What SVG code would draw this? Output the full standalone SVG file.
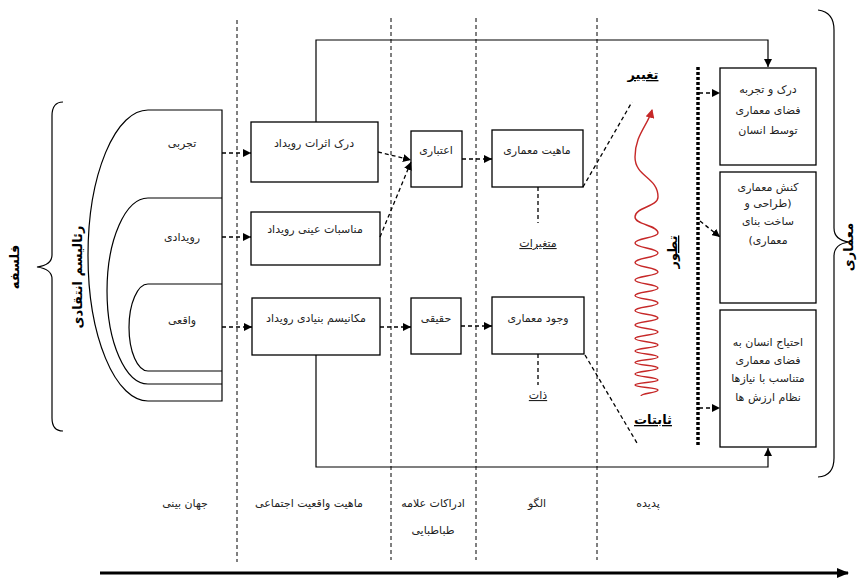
<svg xmlns="http://www.w3.org/2000/svg" width="860" height="585" viewBox="0 0 860 585">
<defs>
<style>
.t{font-family:"DejaVu Sans",sans-serif;font-size:11px;fill:#222;text-anchor:middle;direction:rtl}
.b{font-family:"DejaVu Sans",sans-serif;font-size:13px;font-weight:bold;fill:#000;text-anchor:middle;direction:rtl}
.u{text-decoration:underline}
.box{fill:#fff;stroke:#000;stroke-width:1.3}
.ln{fill:none;stroke:#000;stroke-width:1.2}
.dash{fill:none;stroke:#000;stroke-width:1.3;stroke-dasharray:4 3}
.vd{fill:none;stroke:#000;stroke-width:1;stroke-dasharray:4 3}
</style>
<marker id="ah" viewBox="0 0 8 8" refX="8" refY="4" markerWidth="8" markerHeight="8" markerUnits="userSpaceOnUse" orient="auto"><path d="M0,0 L8,4 L0,8 z" fill="#000"/></marker>
<marker id="big" viewBox="0 0 12 10" refX="11" refY="5" markerWidth="12" markerHeight="10" markerUnits="userSpaceOnUse" orient="auto"><path d="M0,0 L12,5 L0,10 z" fill="#000"/></marker>
<marker id="red" viewBox="0 0 8 8" refX="7" refY="4" markerWidth="9" markerHeight="9" markerUnits="userSpaceOnUse" orient="auto"><path d="M0,0 L8,4 L0,8 z" fill="#c62828"/></marker>
</defs>
<rect width="860" height="585" fill="#fff"/>

<g id="columns">
<line class="vd" x1="237" y1="20" x2="237" y2="562"/>
<line class="vd" x1="391" y1="18" x2="391" y2="560"/>
<line class="vd" x1="476" y1="18" x2="476" y2="560"/>
<line class="vd" x1="597" y1="18" x2="597" y2="560"/>
<line x1="698" y1="67" x2="698" y2="447" stroke="#000" stroke-width="3.5" stroke-dasharray="3 2"/>
</g>

<g id="philosophy">
<path class="ln" d="M63,102 Q52,102 52,116 L52,255 Q52,265 37,267 Q52,269 52,279 L52,418 Q52,431 63,431" stroke-width="2"/>
<text class="b" transform="translate(19,267) rotate(-90)">فلسفه</text>
<text class="b" transform="translate(82,277) rotate(-90)">رئالیسم انتقادی</text>
</g>

<g id="realism">
<path class="ln" d="M148,110 A60,145.5 0 0 0 148,401"/>
<path class="ln" d="M148,198 A41,93 0 0 0 148,384"/>
<path class="ln" d="M148,284 A19,43.5 0 0 0 148,371"/>
<path class="ln" d="M148,110 H222 V401 H148 M148,198 H222 M148,284 H222 M148,371 H222 M148,384 H222" stroke-width="1"/>
<text class="t" x="182" y="147">تجربی</text>
<text class="t" x="182" y="241">رویدادی</text>
<text class="t" x="182" y="324">واقعی</text>
</g>

<g id="n1"><rect class="box" x="251" y="122" width="127" height="60"/><text class="t" x="314" y="147">درک اثرات رویداد</text></g>
<g id="n2"><rect class="box" x="251" y="212" width="129" height="53"/><text class="t" x="315" y="233">مناسبات عینی رویداد</text></g>
<g id="n3"><rect class="box" x="252" y="298" width="128" height="57"/><text class="t" x="316" y="322">مکانیسم بنیادی رویداد</text></g>
<g id="n4"><rect class="box" x="411" y="131" width="51" height="56"/><text class="t" x="436" y="154">اعتباری</text></g>
<g id="n5"><rect class="box" x="411" y="298" width="50" height="56"/><text class="t" x="436" y="322">حقیقی</text></g>
<g id="n6"><rect class="box" x="492" y="130" width="91" height="57"/><text class="t" x="537" y="154">ماهیت معماری</text></g>
<g id="n7"><rect class="box" x="492" y="297" width="92" height="57"/><text class="t" x="538" y="322">وجود معماری</text></g>
<g id="n8"><text class="t u" x="538" y="247">متغیرات</text></g>
<g id="n9"><text class="t u" x="538" y="399">ذات</text></g>
<g id="n10"><text class="b u" x="643" y="79">تغییر</text></g>
<g id="n11"><text class="b u" x="653" y="424">ثابتات</text></g>
<g id="n12"><text class="b u" transform="translate(677,252) rotate(-90)">تطور</text></g>
<g id="n13"><rect class="box" x="720" y="68" width="96" height="97" stroke-width="1"/>
<text class="t" x="768" y="93">درک و تجربه</text><text class="t" x="768" y="114">فضای معماری</text><text class="t" x="768" y="134">توسط انسان</text></g>
<g id="n14"><rect class="box" x="720" y="172" width="96" height="131" stroke-width="1"/>
<text class="t" x="768" y="191">کنش معماری</text><text class="t" x="768" y="207">(طراحی و</text><text class="t" x="768" y="225">ساخت بنای</text><text class="t" x="768" y="244">معماری)</text></g>
<g id="n15"><rect class="box" x="720" y="310" width="96" height="137" stroke-width="1"/>
<text class="t" x="768" y="346">احتیاج انسان به</text><text class="t" x="768" y="364">فضای معماری</text><text class="t" x="768" y="382">متناسب با نیازها</text><text class="t" x="768" y="401">نظام ارزش ها</text></g>

<g id="architecture">
<path class="ln" d="M818,10 Q834,12 834,30 L834,228 Q834,240 849,242 Q834,244 834,256 L834,458 Q834,476 818,477" stroke-width="2"/>
<text class="b" transform="translate(853,247) rotate(-90)">معماری</text>
</g>

<g id="bottom">
<text class="t" x="185" y="507">جهان بینی</text>
<text class="t" x="309" y="507">ماهیت واقعیت اجتماعی</text>
<text class="t" x="433" y="507">ادراکات علامه</text>
<text class="t" x="433" y="534">طباطبایی</text>
<text class="t" x="537" y="507">الگو</text>
<text class="t" x="648" y="507">پدیده</text>
<line x1="100" y1="573" x2="848" y2="573" stroke="#000" stroke-width="3" marker-end="url(#big)"/>
</g>

<g id="connectors">
<path class="ln" d="M316,122 V40 H768 V67" marker-end="url(#ah)"/>
<path class="ln" d="M316,355 V467 H768 V448" marker-end="url(#ah)"/>
<line class="dash" x1="222" y1="153" x2="251" y2="153" marker-end="url(#ah)"/>
<line class="dash" x1="222" y1="237" x2="251" y2="237" marker-end="url(#ah)"/>
<line class="dash" x1="222" y1="327" x2="252" y2="327" marker-end="url(#ah)"/>
<line class="dash" x1="378" y1="152" x2="411" y2="160" marker-end="url(#ah)"/>
<line class="dash" x1="380" y1="237" x2="411" y2="162" marker-end="url(#ah)"/>
<line class="dash" x1="380" y1="327" x2="411" y2="327" marker-end="url(#ah)"/>
<line class="dash" x1="462" y1="159" x2="492" y2="159" marker-end="url(#ah)"/>
<line class="dash" x1="461" y1="326" x2="492" y2="326" marker-end="url(#ah)"/>
<line class="dash" x1="538" y1="187" x2="538" y2="223"/>
<line class="dash" x1="538" y1="354" x2="538" y2="385"/>
<line class="dash" x1="583" y1="187" x2="632" y2="102"/>
<line class="dash" x1="585" y1="355" x2="637" y2="443"/>
<line class="dash" x1="699" y1="93" x2="720" y2="93" marker-end="url(#ah)"/>
<line class="dash" x1="700" y1="221" x2="720" y2="237" marker-end="url(#ah)"/>
<line class="dash" x1="699" y1="408" x2="720" y2="408" marker-end="url(#ah)"/>
<path fill="none" stroke="#c62828" stroke-width="1.4" marker-end="url(#red)" d="M641,396 C641,393 658,393 658,390 C658,387.5 635,387.5 635,385 C635,382.5 658,382.5 658,380 C658,377 635,377 635,374 C635,371 658,371 658,368 C658,365.25 635,365.25 635,362.5 C635,359.75 658,359.75 658,357 C658,354 635,354 635,351 C635,348 658,348 658,345 C658,341.75 635,341.75 635,338.5 C635,335.25 658,335.25 658,332 C658,328.5 635,328.5 635,325 C635,321.5 658,321.5 658,318 C658,314.25 635,314.25 635,310.5 C635,306.75 658,306.75 658,303 C658,299.25 635,299.25 635,295.5 C635,291.75 658,291.75 658,288 C658,284 635,284 635,280 C635,276 658,276 658,272 C658,267.25 635,267.25 635,262.5 C635,257.75 658,257.75 658,253 C658,248 635,248 635,243 C635,238 658,238 658,233 C658,225 635,225 635,217 C635,207 658,207 658,197 C658,177 635,177 635,157 C635,135 648,125 652,110"/>
</g>
</svg>
